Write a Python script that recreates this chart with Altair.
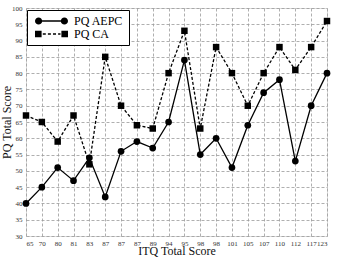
import altair as alt
import pandas as pd

x_labels = ["65", "70", "80", "81", "83", "87", "87", "87", "89", "94",
            "95", "98", "98", "101", "105", "107", "110", "112", "117", "123"]
aepc = [40, 45, 51, 47, 54, 42, 56, 59, 57, 65, 84, 55, 60, 51, 64, 74, 78, 53, 70, 80]
ca = [67, 65, 59, 67, 52, 85, 70, 64, 63, 80, 93, 63, 88, 80, 70, 80, 88, 81, 88, 96]
series_names = ["PQ AEPC", "PQ CA"]

rows = []
for i in range(len(x_labels)):
    rows.append({"idx": i, "series": series_names[0], "value": aepc[i]})
    rows.append({"idx": i, "series": series_names[1], "value": ca[i]})
df = pd.DataFrame(rows)

FONT = "Liberation Serif"
label_arr = "[" + ",".join("'%s'" % l for l in x_labels) + "]"

x_enc = alt.X(
    "idx:Q",
    scale=alt.Scale(domain=[0, len(x_labels) - 1], nice=False, zero=False),
    axis=alt.Axis(
        title="ITQ Total Score",
        values=list(range(len(x_labels))),
        labelExpr=label_arr + "[datum.value]",
        labelOverlap=False,
        grid=True, gridDash=[3, 2], gridColor="#9a9a9a", gridWidth=0.8,
        domain=False, ticks=False, labelPadding=3,
        labelFont=FONT, labelFontSize=7, labelColor="#333",
        titleFont=FONT, titleFontSize=12, titleFontWeight="normal",
        titleColor="#111", titleY=9, titleBaseline="top",
    ),
)
y_enc = alt.Y(
    "value:Q",
    scale=alt.Scale(domain=[30, 100], nice=False, zero=False),
    axis=alt.Axis(
        title="PQ Total Score",
        values=list(range(30, 101, 5)),
        labelOverlap=False,
        grid=True, gridDash=[3, 2], gridColor="#9a9a9a", gridWidth=0.8,
        domain=False, ticks=False, labelPadding=4,
        labelFont=FONT, labelFontSize=7, labelColor="#333",
        titleFont=FONT, titleFontSize=12, titleFontWeight="normal",
        titleColor="#111", titleX=-13,
    ),
)

# legend glyphs (line with a marker at each end), drawn as filled shapes
circ_path = ("M1.4,0A1.2,1.2,0,1,1,-1,0A1.2,1.2,0,1,1,1.4,0Z"
             "M10,0A1.2,1.2,0,1,1,7.6,0A1.2,1.2,0,1,1,10,0Z"
             "M1.3,-0.22L7.7,-0.22L7.7,0.22L1.3,0.22Z")
sq_path = ("M-1,-1.1L1.2,-1.1L1.2,1.1L-1,1.1Z"
           "M7.8,-1.1L10,-1.1L10,1.1L7.8,1.1Z"
           "M1.6,-0.22L2.6,-0.22L2.6,0.22L1.6,0.22Z"
           "M3.3,-0.22L4.3,-0.22L4.3,0.22L3.3,0.22Z"
           "M5.0,-0.22L6.0,-0.22L6.0,0.22L5.0,0.22Z"
           "M6.7,-0.22L7.5,-0.22L7.5,0.22L6.7,0.22Z")

legend = alt.Legend(
    title=None, orient="none", legendX=1, legendY=2,
    strokeColor="black", fillColor="white", padding=5,
    labelFont=FONT, labelFontSize=12, labelColor="black",
    labelOffset=30, rowPadding=1, symbolSize=36, symbolOpacity=1,
    symbolFillColor="black", symbolStrokeColor="black", symbolStrokeWidth=0,
)

base_a = alt.Chart(df).transform_filter(alt.datum.series == series_names[0])
base_c = alt.Chart(df).transform_filter(alt.datum.series == series_names[1])

line_a = base_a.mark_line(color="black", strokeWidth=1.3).encode(x=x_enc, y=y_enc)
line_c = base_c.mark_line(color="black", strokeWidth=1.3, strokeDash=[3, 2]).encode(x=x_enc, y=y_enc)
pts_a = base_a.mark_point(filled=True, color="black", opacity=1, size=45, shape="circle").encode(
    x=x_enc, y=y_enc)
pts_c = base_c.mark_point(filled=True, color="black", opacity=1, size=42, shape="square").encode(
    x=x_enc, y=y_enc)

legend_layer = alt.Chart(df).mark_point(
    filled=True, color="black", opacity=0
).encode(
    x=x_enc, y=y_enc,
    shape=alt.Shape("series:N", scale=alt.Scale(domain=series_names, range=[circ_path, sq_path]),
                    legend=legend),
)

chart = alt.layer(line_a, line_c, pts_a, pts_c, legend_layer).properties(
    width=301, height=228,
    padding={"left": 26, "top": 8, "right": 25, "bottom": 25},
    autosize=alt.AutoSizeParams(type="none"),
).configure_view(stroke="#999", strokeWidth=1).configure(background="white")

chart.save("out.html", embed_options={"renderer": "svg", "actions": False})
